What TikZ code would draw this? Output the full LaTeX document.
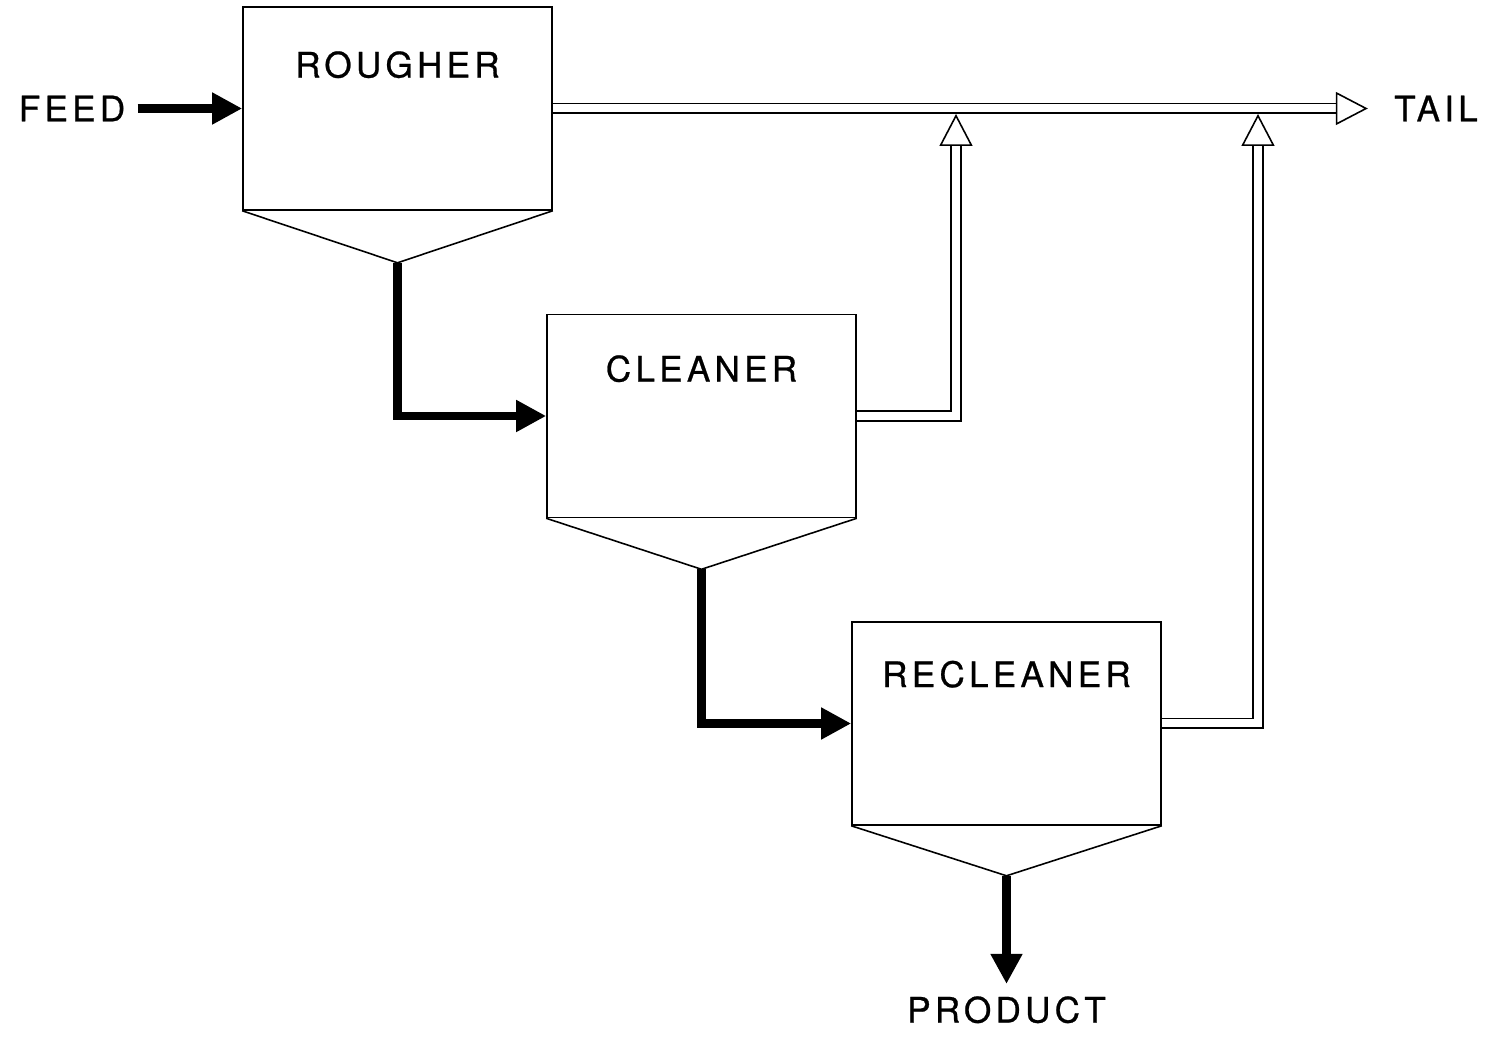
\documentclass[tikz,border=0pt]{standalone}
\usepackage{fontspec}
\setmainfont{TeX Gyre Heros}
\usetikzlibrary{arrows.meta,positioning}

\tikzset{
  cell/.style={draw, line width=0.45pt, minimum width=3.09cm, minimum height=2.03cm, inner sep=0pt},
  flowtext/.style={font=\fontsize{10}{12}\selectfont\addfontfeature{LetterSpace=12, FakeBold=0.7}},
  conc/.style={line width=2.3pt, -{Triangle[length=3mm, width=3mm]}},
  tailflow/.style={double, double distance=0.8mm, line width=0.45pt,
    -{Triangle[open, length=3.2mm, width=3.3mm, line width=0.45pt]}},
}

\begin{document}
\begin{tikzpicture}[on grid]
    \useasboundingbox (0,0) rectangle (14.86,-10.37);

    % flotation cells
    \node[cell] (rougher) at (3.975,-1.085) {};
    \node[cell, below right=3.075cm and 3.04cm of rougher] (cleaner) {};
    \node[cell, below right=3.075cm and 3.05cm of cleaner] (recleaner) {};

    \node[flowtext] (rougher label) at ([yshift=-0.585cm]rougher.north) {ROUGHER};
    \node[flowtext] (cleaner label) at ([yshift=-0.55cm]cleaner.north) {CLEANER};
    \node[flowtext] (recleaner label) at ([yshift=-0.53cm]recleaner.north) {RECLEANER};

    % hoppers
    \coordinate[below=0.52cm of rougher.south] (rougher apex);
    \coordinate[below=0.51cm of cleaner.south] (cleaner apex);
    \coordinate[below=0.50cm of recleaner.south] (recleaner apex);
    \draw[line width=0.45pt] (rougher.south west) -- (rougher apex) -- (rougher.south east);
    \draw[line width=0.45pt] (cleaner.south west) -- (cleaner apex) -- (cleaner.south east);
    \draw[line width=0.45pt] (recleaner.south west) -- (recleaner apex) -- (recleaner.south east);

    % streams
    \node[flowtext] (feed) at (0.72,-1.085) {FEED};
    \node[flowtext] (tail) at (14.36,-1.085) {TAIL};
    \node[flowtext] (product) at ([yshift=-1.34cm]recleaner apex) {PRODUCT};
    \coordinate (cleaner tail) at (9.56,-1.14);
    \coordinate (recleaner tail) at (12.58,-1.14);

    \draw[conc] (feed) -- (rougher);
    \draw[conc] (rougher apex) |- (cleaner);
    \draw[conc] (cleaner apex) |- (recleaner);
    \draw[conc] (recleaner apex) -- (product);

    \draw[tailflow, shorten >=1.4mm] (rougher) -- (tail);
    \draw[tailflow] (cleaner) -| (cleaner tail);
    \draw[tailflow] (recleaner) -| (recleaner tail);
\end{tikzpicture}
\end{document}
